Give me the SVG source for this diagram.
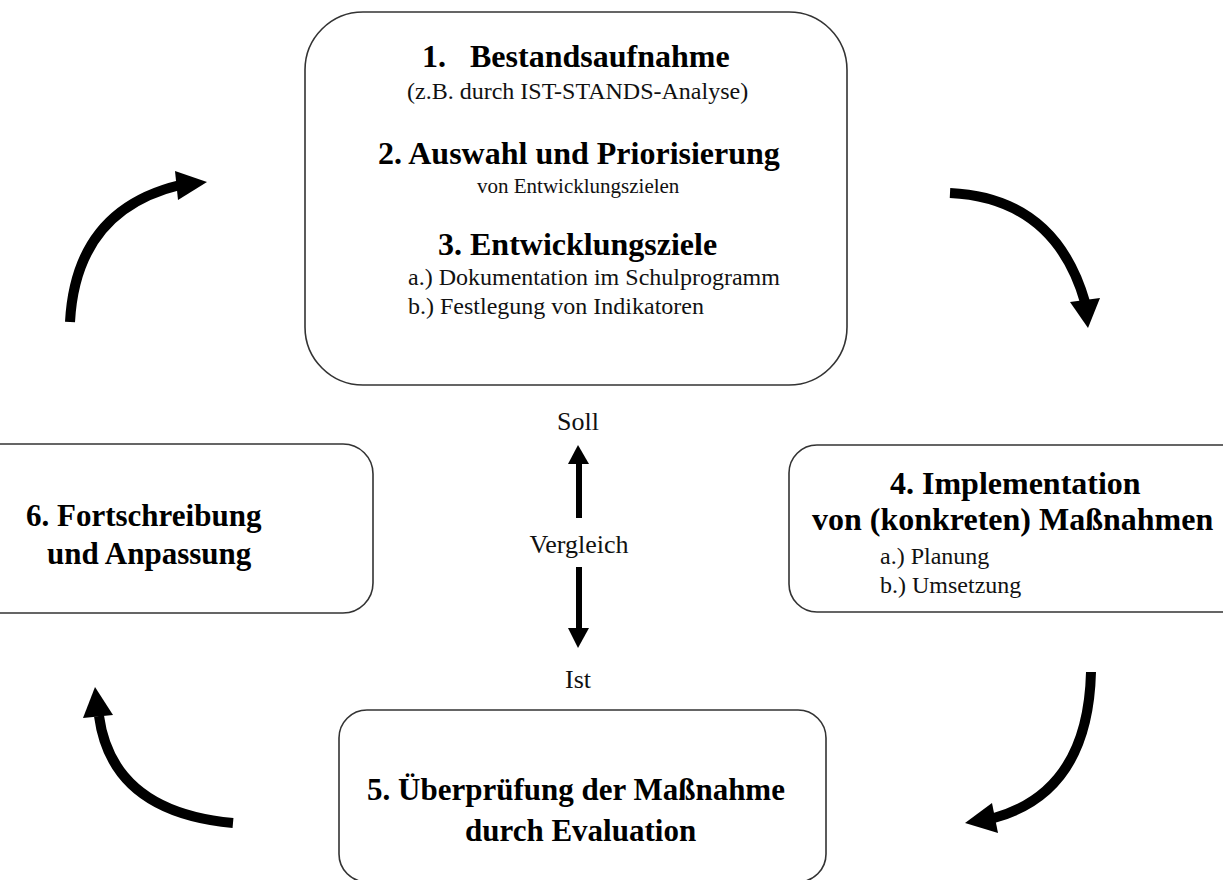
<svg xmlns="http://www.w3.org/2000/svg" width="1223" height="880" viewBox="0 0 1223 880">
<style>
.box{fill:#fff;stroke:#333;stroke-width:1.6}
.b{font-family:"Liberation Serif",serif;font-weight:bold;fill:#000}
.r{font-family:"Liberation Serif",serif;fill:#111}
.arc{fill:none;stroke:#000;stroke-width:10}
.head{fill:#000}
.shaft{fill:none;stroke:#000;stroke-width:6}
</style>
<rect width="1223" height="880" fill="#fff"/>
<g id="node1">
<rect class="box" x="305" y="12" width="542" height="373" rx="58"/>
<text class="b" x="422" y="67" font-size="32">1.</text>
<text class="b" x="470" y="67" font-size="32">Bestandsaufnahme</text>
<text class="r" x="407" y="99" font-size="24">(z.B. durch IST-STANDS-Analyse)</text>
<text class="b" x="378" y="164" font-size="32">2. Auswahl und Priorisierung</text>
<text class="r" x="477" y="193" font-size="21">von Entwicklungszielen</text>
<text class="b" x="438" y="255" font-size="32">3. Entwicklungsziele</text>
<text class="r" x="408" y="285" font-size="24">a.) Dokumentation im Schulprogramm</text>
<text class="r" x="408" y="314" font-size="24">b.) Festlegung von Indikatoren</text>
</g>
<g id="node4">
<rect class="box" x="789" y="445" width="480" height="167" rx="28"/>
<text class="b" x="890" y="494" font-size="32">4. Implementation</text>
<text class="b" x="812" y="530" font-size="32">von (konkreten) Maßnahmen</text>
<text class="r" x="880" y="564" font-size="24">a.) Planung</text>
<text class="r" x="880" y="593" font-size="24">b.) Umsetzung</text>
</g>
<g id="node6">
<rect class="box" x="-40" y="444" width="413" height="169" rx="30"/>
<text class="b" x="26" y="526" font-size="31">6. Fortschreibung</text>
<text class="b" x="47" y="564" font-size="31">und Anpassung</text>
</g>
<g id="node5">
<rect class="box" x="339" y="710" width="487" height="172" rx="28"/>
<text class="b" x="367" y="800" font-size="31">5. Überprüfung der Maßnahme</text>
<text class="b" x="465" y="841" font-size="31">durch Evaluation</text>
</g>
<g id="labels">
<text class="r" x="578" y="430" font-size="26" text-anchor="middle">Soll</text>
<text class="r" x="579" y="553" font-size="26" text-anchor="middle">Vergleich</text>
<text class="r" x="578" y="688" font-size="26" text-anchor="middle">Ist</text>
</g>
<g id="connectors">
<line class="shaft" x1="579" y1="518" x2="579" y2="460"/>
<polygon class="head" points="578,445 589,464 568,464"/>
<line class="shaft" x1="579" y1="567" x2="579" y2="632"/>
<polygon class="head" points="578,648 589,628 568,628"/>
<path class="arc" d="M70,322 Q76,210 180,185"/>
<polygon class="head" points="207,182 175,171 178,200"/>
<path class="arc" d="M950,193 Q1055,198 1085,302"/>
<polygon class="head" points="1088,328 1070,302 1100,298"/>
<path class="arc" d="M1091,672 Q1088,792 994,818"/>
<polygon class="head" points="965,823 992,803 998,833"/>
<path class="arc" d="M233,823 Q112,812 99,716"/>
<polygon class="head" points="95,687 83,718 113,715"/>
</g>
</svg>
